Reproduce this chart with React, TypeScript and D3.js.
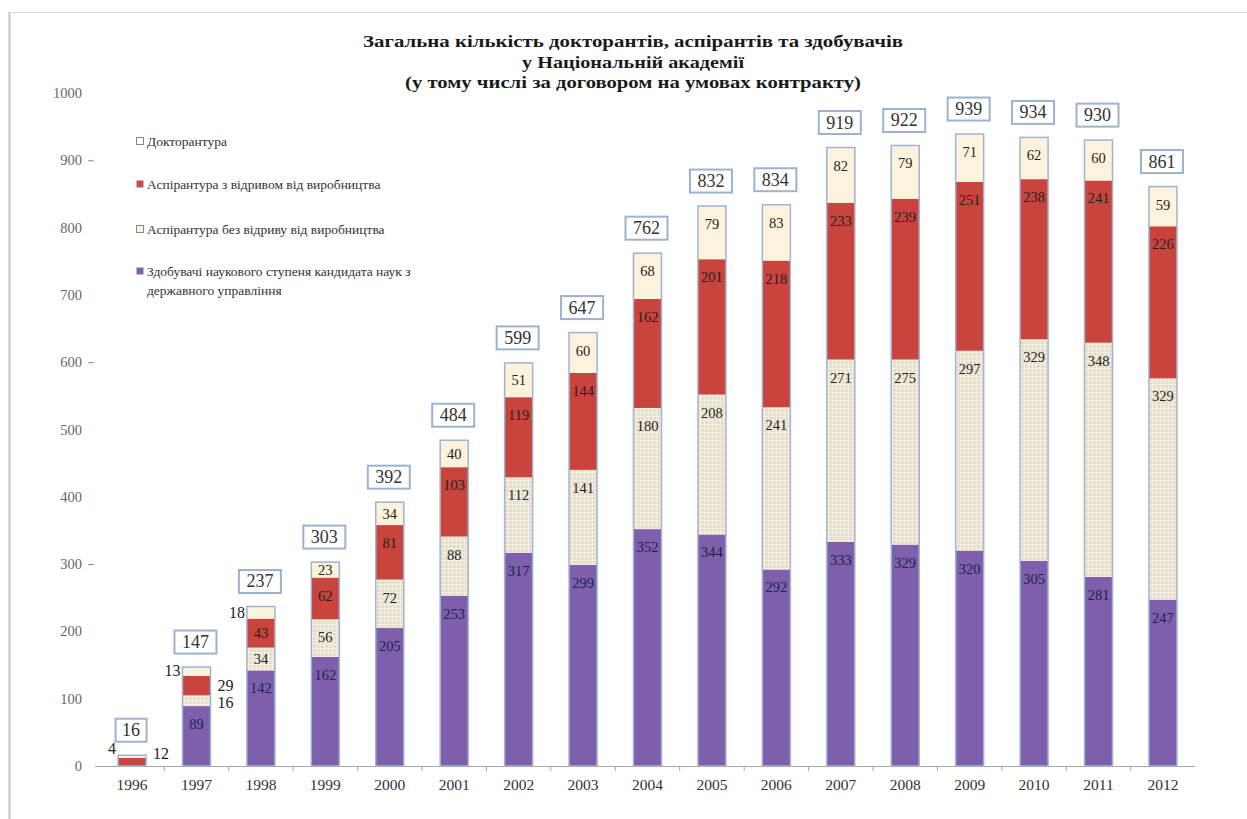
import React from 'react';
import * as d3 from 'd3';

// years on the x axis
const years = ['1996', '1997', '1998', '1999', '2000', '2001', '2002', '2003', '2004',
  '2005', '2006', '2007', '2008', '2009', '2010', '2011', '2012'];

// series, bottom to top
const zdobuvachi = [0, 89, 142, 162, 205, 253, 317, 299, 352, 344, 292, 333, 329, 320, 305, 281, 247];
const bezVidryvu = [0, 16, 34, 56, 72, 88, 112, 141, 180, 208, 241, 271, 275, 297, 329, 348, 329];
const zVidryvom = [12, 29, 43, 62, 81, 103, 119, 144, 162, 201, 218, 233, 239, 251, 238, 241, 226];
const doktorantura = [4, 13, 18, 23, 34, 40, 51, 60, 68, 79, 83, 82, 79, 71, 62, 60, 59];

// totals shown in the boxes above the bars
const totals = [16, 147, 237, 303, 392, 484, 599, 647, 762, 832, 834, 919, 922, 939, 934, 930, 861];

const yTicks = [0, 100, 200, 300, 400, 500, 600, 700, 800, 900, 1000];
const dashedTicks = [300, 600, 900];

const titleLines = [
  'Загальна кількість докторантів, аспірантів та  здобувачів',
  'у Національній академії',
  '(у тому числі за договором на умовах контракту)',
];
const titleWidths = [540, 222, 456];

const seriesKeys = ['zdobuvachi', 'bez', 'zVidryvom', 'doktor'];
const seriesColors: Record<string, string> = {
  zdobuvachi: '#7d5fab',
  bez: 'url(#beigeTex)',
  zVidryvom: '#c8443d',
  doktor: '#fdf3dc',
};

const legendItems = [
  { key: 'doktor', lines: ['Докторантура'], fill: '#ffffff' },
  { key: 'zVidryvom', lines: ['Аспірантура з відривом від виробництва'], fill: '#c0504d' },
  { key: 'bez', lines: ['Аспірантура без відриву від виробництва'], fill: '#f4f1ea' },
  { key: 'zdobuvachi', lines: ['Здобувачі наукового ступеня кандидата наук з', 'державного управління'], fill: '#8064a2' },
];

// labels that sit beside the bar instead of inside it
const outsideLabels: Record<string, { side: 'left' | 'right'; dy: number }> = {
  '1996-doktor': { side: 'left', dy: -8 },
  '1996-zVidryvom': { side: 'right', dy: -8 },
  '1997-doktor': { side: 'left', dy: 0 },
  '1997-zVidryvom': { side: 'right', dy: 0 },
  '1997-bez': { side: 'right', dy: 2 },
  '1998-doktor': { side: 'left', dy: 0 },
};

const serif = '"Liberation Serif", "DejaVu Serif", serif';

export default function App() {
  const width = 1247;
  const height = 819;

  const rows = years.map((yr, i) => ({
    year: yr,
    zdobuvachi: zdobuvachi[i],
    bez: bezVidryvu[i],
    zVidryvom: zVidryvom[i],
    doktor: doktorantura[i],
    total: totals[i],
  }));

  const x = d3.scaleBand<string>()
    .domain(years)
    .range([100, 1195])
    .paddingInner(0.565)
    .paddingOuter(0.28);

  const y = d3.scaleLinear().domain([0, 1000]).range([766, 93]);

  const stack = d3.stack<any>().keys(seriesKeys);
  const layers = stack(rows);
  const bw = x.bandwidth();

  return (
    <svg width={width} height={height} style={{ display: 'block', position: 'absolute', left: 0, top: 0, background: '#fff' }}>
      <defs>
        <pattern id="beigeTex" width="4" height="4" patternUnits="userSpaceOnUse">
          <rect width="4" height="4" fill="#e6decb" />
          <path d="M0 0.5H4M0.5 0V4" stroke="#f4efe3" strokeWidth="1" />
        </pattern>
      </defs>

      {/* frame edges */}
      <line x1={9.5} y1={12} x2={9.5} y2={819} stroke="#c4c4c4" strokeWidth={2} />
      <line x1={9} y1={12.5} x2={1247} y2={12.5} stroke="#d6d6d6" strokeWidth={1} />

      {/* title */}
      {titleLines.map((t, i) => (
        <text key={i} x={633} y={47 + i * 20.5} textAnchor="middle"
          textLength={titleWidths[i]} lengthAdjust="spacingAndGlyphs"
          fontFamily={serif} fontWeight="bold" fontSize={17} fill="#1a1a1a">{t}</text>
      ))}

      {/* y axis labels */}
      {yTicks.map(v => (
        <text key={v} x={82} y={y(v) + 5} textAnchor="end" fontFamily={serif}
          fontSize={14.5} fill="#666">{v}</text>
      ))}
      {dashedTicks.map(v => (
        <line key={v} x1={88} x2={94} y1={y(v) + 0.5} y2={y(v) + 0.5} stroke="#888" strokeWidth={1} />
      ))}

      {/* x axis */}
      <line x1={95} x2={1195} y1={766.5} y2={766.5} stroke="#a6a6a6" strokeWidth={1} />
      {years.slice(1).map(yr => (
        <line key={yr} x1={x(yr)! - x.step() * x.paddingInner() / 2} x2={x(yr)! - x.step() * x.paddingInner() / 2}
          y1={766} y2={771} stroke="#a6a6a6" strokeWidth={1} />
      ))}
      {years.map(yr => (
        <text key={yr} x={x(yr)! + bw / 2} y={790} textAnchor="middle" fontFamily={serif}
          fontSize={15.5} fill="#333">{yr}</text>
      ))}

      {/* bars */}
      {layers.map(layer => (
        <g key={layer.key}>
          {layer.map((d, i) => {
            const h = y(d[0]) - y(d[1]);
            if (h <= 0) return null;
            return (
              <rect key={i} x={x(years[i])} y={y(d[1])} width={bw} height={h}
                fill={seriesColors[layer.key]} />
            );
          })}
        </g>
      ))}
      {rows.map(r => {
        const top = layers[3].find(d => d.data.year === r.year)![1];
        return (
          <rect key={r.year} x={x(r.year)} y={y(top)} width={bw} height={y(0) - y(top)}
            fill="none" stroke="#9fb4d3" strokeWidth={1.5} />
        );
      })}

      {/* segment labels */}
      {layers.map(layer => (
        <g key={layer.key}>
          {layer.map((d, i) => {
            const v = d[1] - d[0];
            if (v <= 0) return null;
            const yr = years[i];
            const top = y(d[1]);
            const bottom = y(d[0]);
            const out = outsideLabels[`${yr}-${layer.key}`];
            if (out) {
              const cy = (top + bottom) / 2 + out.dy;
              const lx = out.side === 'left' ? x(yr)! - 2 : x(yr)! + bw + 7;
              return (
                <text key={i} x={lx} y={cy + 5} textAnchor={out.side === 'left' ? 'end' : 'start'}
                  fontFamily={serif} fontSize={16} fill="#222">{v}</text>
              );
            }
            const cy = Math.min(top + 18, (top + bottom) / 2);
            return (
              <text key={i} x={x(yr)! + bw / 2} y={cy + 5} textAnchor="middle"
                fontFamily={serif} fontSize={14.5} fill={layer.key === 'zdobuvachi' ? '#1e1f4a' : '#222'}>{v}</text>
            );
          })}
        </g>
      ))}

      {/* total boxes */}
      {rows.map(r => {
        const top = y(layers[3].find(d => d.data.year === r.year)![1]);
        const w = String(r.total).length > 2 ? 42 : 31;
        const cx = x(r.year)! + bw / 2 - 1;
        const cy = top - 25;
        return (
          <g key={r.year}>
            <rect x={cx - w / 2} y={cy - 11.5} width={w} height={23} fill="#fff"
              stroke="#9cb2cf" strokeWidth={2} />
            <text x={cx} y={cy + 6} textAnchor="middle" fontFamily={serif} fontSize={18}
              fill="#333">{r.total}</text>
          </g>
        );
      })}

      {/* legend */}
      {legendItems.map((it, i) => {
        const ly = [142, 185, 230, 272][i];
        return (
          <g key={it.key}>
            <rect x={136.5} y={ly - 4.5} width={7} height={7} fill={it.fill}
              stroke={it.key === 'doktor' || it.key === 'bez' ? '#888' : 'none'} strokeWidth={1} />
            {it.lines.map((ln, j) => (
              <text key={j} x={147} y={ly + 4 + j * 19} fontFamily={serif} fontSize={13.5}
                fill="#333">{ln}</text>
            ))}
          </g>
        );
      })}
    </svg>
  );
}
